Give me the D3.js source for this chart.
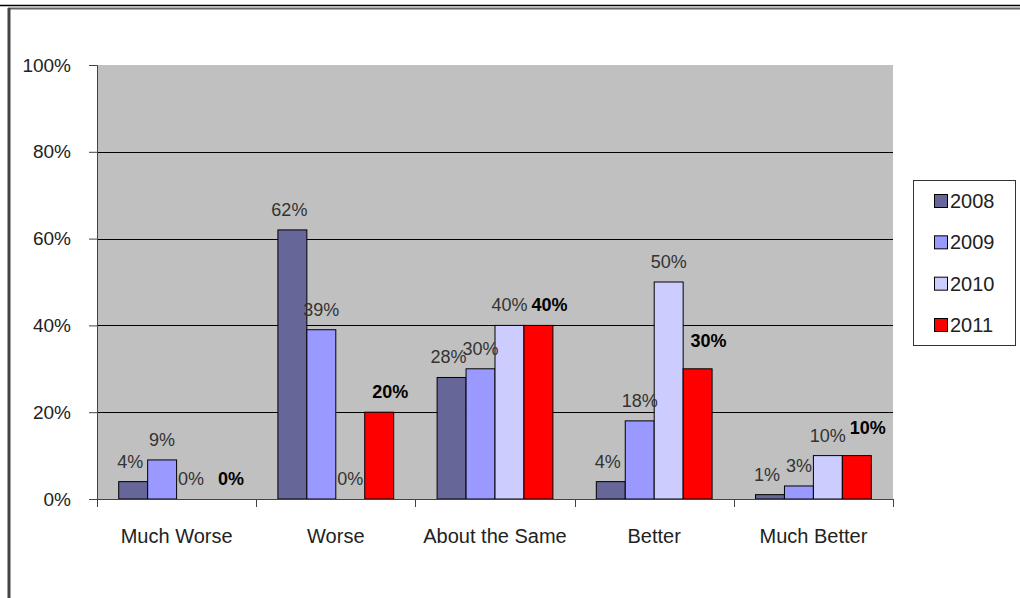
<!DOCTYPE html>
<html>
<head>
<meta charset="utf-8">
<script src="https://cdn.jsdelivr.net/npm/d3@7/dist/d3.min.js"></script>
<style>
  html, body { margin: 0; padding: 0; background: #fff; }
  svg { display: block; font-family: "Liberation Sans", Arial, sans-serif; }
</style>
</head>
<body>
<svg id="chart" width="1020" height="598"></svg>
<script>
const categories = ["Much Worse", "Worse", "About the Same", "Better", "Much Better"];
const years = ["2008", "2009", "2010", "2011"];
const values2008 = [4, 62, 28, 4, 1];
const values2009 = [9, 39, 30, 18, 3];
const values2010 = [0, 0, 40, 50, 10];
const values2011 = [0, 20, 40, 30, 10];
const yTicks = [0, 20, 40, 60, 80, 100];
const colors = ["#666699", "#9999FF", "#CCCCFF", "#FF0000"];

const seriesValues = [values2008, values2009, values2010, values2011];

const svg = d3.select("#chart");
const W = 1020, H = 598;

// chart frame
svg.append("line").attr("x1", 0).attr("x2", W).attr("y1", 5.5).attr("y2", 5.5)
  .attr("stroke", "#000").attr("stroke-width", 1.5);
svg.append("line").attr("x1", 8).attr("x2", W).attr("y1", 8.5).attr("y2", 8.5)
  .attr("stroke", "#666").attr("stroke-width", 2);
svg.append("line").attr("x1", 9).attr("x2", 9).attr("y1", 8).attr("y2", H)
  .attr("stroke", "#444").attr("stroke-width", 3);

const plot = { left: 97, right: 893, top: 65, bottom: 499 };

const x0 = d3.scaleBand().domain(categories).range([plot.left, plot.right]).paddingInner(0).paddingOuter(0);
const bandW = x0.bandwidth();
const gapFrac = 1.5 / 5.5;
const x1 = d3.scaleBand().domain(years)
  .range([bandW * gapFrac / 2, bandW - bandW * gapFrac / 2]).padding(0);
const y = d3.scaleLinear().domain([0, 100]).range([plot.bottom, plot.top]);

// plot background
svg.append("rect").attr("x", plot.left).attr("y", plot.top)
  .attr("width", plot.right - plot.left).attr("height", plot.bottom - plot.top)
  .attr("fill", "#C0C0C0");

// gridlines
svg.append("g").selectAll("line").data(yTicks.filter(t => t > 0 && t < 100)).join("line")
  .attr("x1", plot.left).attr("x2", plot.right)
  .attr("y1", d => Math.round(y(d)) + 0.5).attr("y2", d => Math.round(y(d)) + 0.5)
  .attr("stroke", "#000").attr("stroke-width", 1);

// bars
const data = [];
categories.forEach((c, i) => {
  years.forEach((yr, j) => {
    data.push({ cat: c, year: yr, idx: j, value: seriesValues[j][i] });
  });
});

svg.append("g").selectAll("rect").data(data.filter(d => d.value > 0)).join("rect")
  .attr("x", d => x0(d.cat) + x1(d.year))
  .attr("y", d => y(d.value))
  .attr("width", x1.bandwidth())
  .attr("height", d => y(0) - y(d.value))
  .attr("fill", d => colors[d.idx])
  .attr("stroke", "#000").attr("stroke-width", 1);

// data labels
svg.append("g").selectAll("text").data(data).join("text")
  .attr("x", d => x0(d.cat) + x1(d.year) + x1.bandwidth() / 2 + (d.idx === 3 ? 11 : (d.idx === 0 ? -3 : 0)))
  .attr("y", d => y(d.value) - (d.idx === 3 && d.value >= 10 && d.value <= 30 && d.cat !== "Worse" ? 22 : 14))
  .attr("text-anchor", "middle")
  .attr("font-size", 18)
  .attr("font-weight", d => d.idx === 3 ? "bold" : "normal")
  .attr("fill", d => d.idx === 3 ? "#000" : "#333")
  .text(d => d.value + "%");

// y axis
const yAxis = d3.axisLeft(y).tickValues(yTicks).tickFormat(d => d + "%").tickSize(8).tickPadding(18);
const gy = svg.append("g").attr("transform", `translate(${plot.left},0)`).call(yAxis);
gy.select(".domain").attr("stroke", "#444");
gy.selectAll(".tick line").attr("stroke", "#444");
gy.selectAll(".tick text").attr("font-size", 19).attr("fill", "#222")
  .attr("font-family", "'Liberation Sans', Arial, sans-serif");

// x axis
const xAxis = d3.axisBottom(x0).tickSize(0).tickPadding(0);
const gx = svg.append("g").attr("transform", `translate(0,${plot.bottom})`).call(xAxis);
gx.select(".domain").attr("stroke", "#444");
gx.selectAll(".tick text").attr("font-size", 20).attr("fill", "#222").attr("dy", 0).attr("y", 44)
  .attr("font-family", "'Liberation Sans', Arial, sans-serif");
// category boundary ticks
const bounds = categories.map(c => x0(c)).concat([plot.right]);
svg.append("g").selectAll("line").data(bounds).join("line")
  .attr("x1", d => Math.round(d) + 0.5).attr("x2", d => Math.round(d) + 0.5)
  .attr("y1", plot.bottom).attr("y2", plot.bottom + 8)
  .attr("stroke", "#444");

// legend
const lg = svg.append("g");
lg.append("rect").attr("x", 913.5).attr("y", 180.5).attr("width", 102).attr("height", 165)
  .attr("fill", "#fff").attr("stroke", "#333").attr("stroke-width", 1);
const ly = d3.scalePoint().domain(years).range([201, 325]);
lg.selectAll("rect.sw").data(years).join("rect").attr("class", "sw")
  .attr("x", 934.5).attr("y", d => ly(d) - 6.5).attr("width", 13).attr("height", 13)
  .attr("fill", (d, i) => colors[i]).attr("stroke", "#000");
lg.selectAll("text").data(years).join("text")
  .attr("x", 950).attr("y", d => ly(d) + 7)
  .attr("font-size", 20).attr("fill", "#222")
  .text(d => d);
</script>
</body>
</html>
